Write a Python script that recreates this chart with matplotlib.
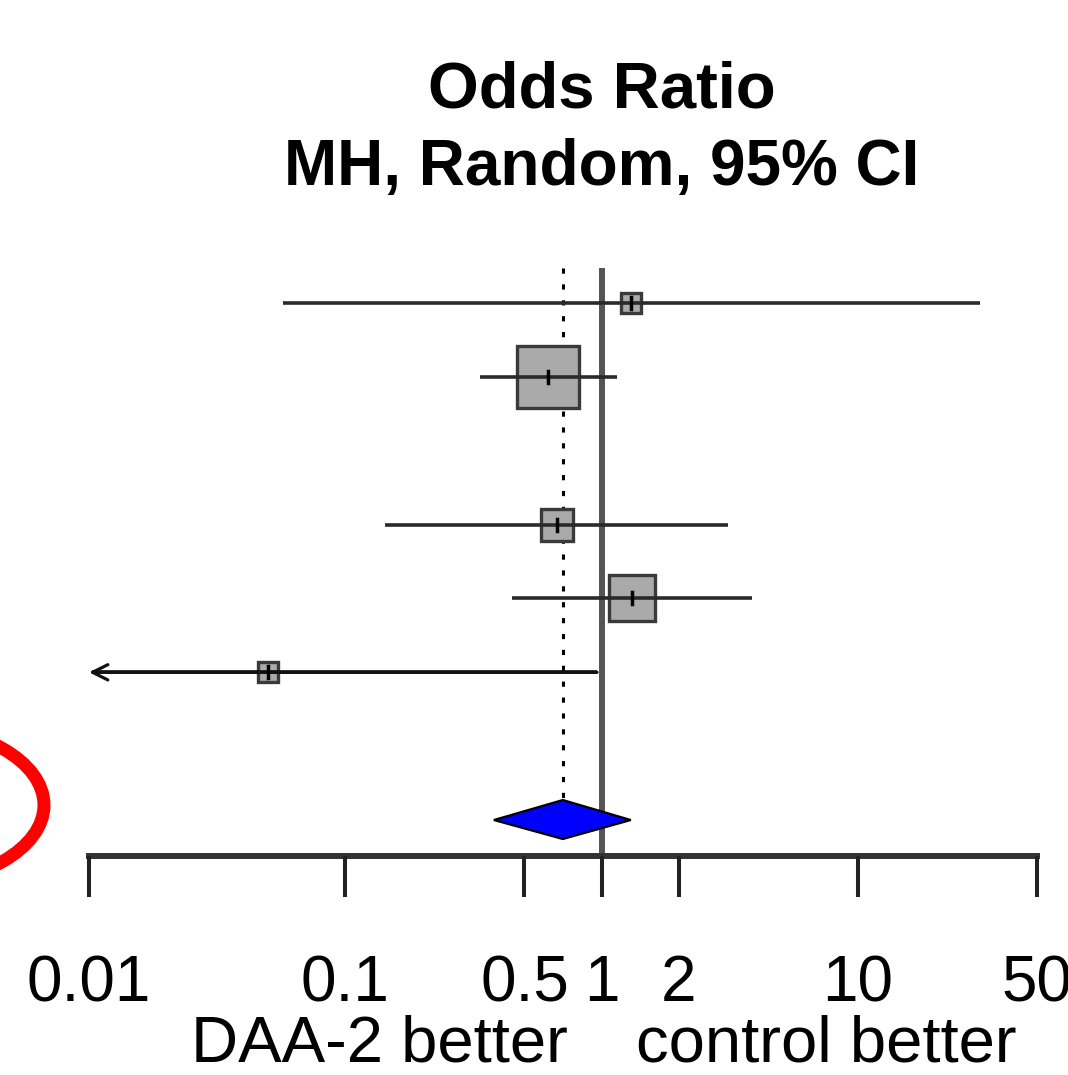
import numpy as np
import matplotlib
matplotlib.use('Agg')
import matplotlib.pyplot as plt
from matplotlib.patches import Ellipse, Polygon
from matplotlib.transforms import IdentityTransform

plt.rcParams['font.family'] = ['Liberation Sans', 'DejaVu Sans']

# ---------------- data ----------------
or_est = [1.30, 0.62, 0.67, 1.31, 0.050]
ci_low = [0.057, 0.335, 0.143, 0.447, 0.0008]
ci_high = [29.9, 1.15, 3.12, 3.86, 0.96]
weights = [5.2, 49.7, 13.2, 26.2, 5.7]
study_rows = [1, 2, 4, 5, 6]

pooled_est = 0.706
pooled_low = 0.38
pooled_high = 1.30
pooled_row = 8

ticks = [0.01, 0.1, 0.5, 1, 2, 10, 50]
tick_labels = ['0.01', '0.1', '0.5', '1', '2', '10', '50']
title_lines = ['Odds Ratio', 'MH, Random, 95% CI']
label_left = 'DAA-2 better'
label_right = 'control better'

# ---------------- layout ----------------
W, H = 1068, 1075
fig = plt.figure(figsize=(W / 100, H / 100), dpi=100)
ax = fig.add_axes([0, 0, 1, 1])
ax.set_xscale('log')
dec_px = (1037 - 89) / (np.log10(50) + 2)
ax.set_xlim(10 ** (-2 - 89 / dec_px), 10 ** (-2 + (W - 89) / dec_px))
ax.set_ylim(H, 0)
ax.axis('off')

def row_y(r):
    return 303 + (r - 1) * 73.86

xmin_axis = ticks[0]
axis_y = 856

# reference line at 1
ax.plot([1, 1], [268, axis_y], color='#555555', lw=4.3, solid_capstyle='butt', zorder=1)
# dotted pooled line
ax.plot([pooled_est, pooled_est], [268, row_y(pooled_row) - 20], color='black',
        lw=2.2, ls=(0, (1.7, 3.5)), zorder=1)

# studies
max_side = 62
for est, lo, hi, w, r in zip(or_est, ci_low, ci_high, weights, study_rows):
    y = row_y(r)
    side = max_side * np.sqrt(w / max(weights))
    ax.plot(est, y, marker='s', ms=side * 0.72, mfc='#aaaaaa', mec='#3a3a3a',
            mew=2.4, zorder=3, ls='none')
    if lo < xmin_axis:
        ax.plot([xmin_axis * 1.03, hi], [y, y], color='#151515', lw=2.6,
                solid_capstyle='butt', zorder=4)
        ax.annotate('', xy=(xmin_axis, y), xytext=(hi, y),
                    arrowprops=dict(arrowstyle='->,head_length=1.1,head_width=0.55',
                                    lw=2.3, color='#111111', shrinkA=0, shrinkB=0),
                    zorder=4)
    else:
        ax.plot([lo, hi], [y, y], color='#2a2a2a', lw=2.6,
                solid_capstyle='butt', zorder=4)
    ax.plot([est, est], [y - 6, y + 6], color='black', lw=2.5, zorder=5)

# pooled diamond
yd = row_y(pooled_row)
diamond = Polygon([(pooled_low, yd), (pooled_est, yd - 20), (pooled_high, yd),
                   (pooled_est, yd + 19)], closed=True, fc='#0000ff', ec='black',
                  lw=1.6, zorder=5)
ax.add_patch(diamond)

# x axis
ax.plot([ticks[0], ticks[-1]], [axis_y, axis_y], color='#333333', lw=4.3,
        solid_capstyle='projecting', zorder=2)
for t, lab in zip(ticks, tick_labels):
    ax.plot([t, t], [axis_y, 897], color='#222222', lw=2.9, solid_capstyle='butt', zorder=2)
    ax.text(t, 1001, lab, ha='center', va='baseline', fontsize=46)

# titles
ax.text(1, 107, title_lines[0], ha='center', va='baseline', fontsize=47, fontweight='bold')
ax.text(1, 185, title_lines[1], ha='center', va='baseline', fontsize=46, fontweight='bold')

# bottom labels
ax.text(10 ** ((568 - 89) / dec_px - 2), 1061, label_left, ha='right', va='baseline', fontsize=47)
ax.text(10 ** ((636 - 89) / dec_px - 2), 1061, label_right, ha='left', va='baseline', fontsize=47)

# red annotation ellipse
ell = Ellipse(xy=(-98, H - 805), width=284, height=160, transform=IdentityTransform(),
              fill=False, ec='#ff0000', lw=13 * 0.72, clip_on=False)
fig.add_artist(ell)

fig.savefig('out.png', dpi=100, facecolor='white')
